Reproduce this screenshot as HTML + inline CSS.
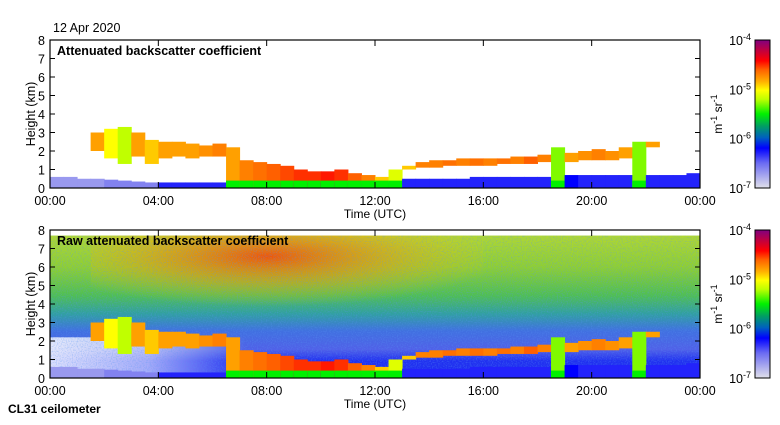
<!DOCTYPE html>
<html><head><meta charset="utf-8"><style>
body{margin:0;background:#fff;width:780px;height:420px;overflow:hidden;font-family:"Liberation Sans",sans-serif}
svg text{font-family:"Liberation Sans",sans-serif}
</style></head><body>
<svg id="c" width="780" height="420" xmlns="http://www.w3.org/2000/svg">
<defs>
<linearGradient id="cbar" x1="0" y1="1" x2="0" y2="0">
<stop offset="0" stop-color="#e0e0ea"/><stop offset="0.17" stop-color="#6a6af2"/><stop offset="0.27" stop-color="#0000ff"/><stop offset="0.34" stop-color="#0060c0"/><stop offset="0.42" stop-color="#00a060"/><stop offset="0.5" stop-color="#00f000"/><stop offset="0.6" stop-color="#c0ff00"/><stop offset="0.66" stop-color="#ffff00"/><stop offset="0.72" stop-color="#ffb000"/><stop offset="0.8" stop-color="#ff6000"/><stop offset="0.86" stop-color="#ff0000"/><stop offset="0.93" stop-color="#c00040"/><stop offset="1" stop-color="#800080"/>
</linearGradient>
<linearGradient id="bg2" x1="0" y1="1" x2="0" y2="0">
<stop offset="0" stop-color="#2030f0"/><stop offset="0.12" stop-color="#2030f0"/><stop offset="0.2" stop-color="#5060e8"/><stop offset="0.33" stop-color="#4070e0"/><stop offset="0.45" stop-color="#30a0a0"/><stop offset="0.58" stop-color="#50c050"/><stop offset="0.78" stop-color="#90d030"/><stop offset="1" stop-color="#b0d830"/>
</linearGradient>
<radialGradient id="warm" cx="0.45" cy="0.25" r="0.6">
<stop offset="0" stop-color="#ff4000" stop-opacity="0.85"/><stop offset="0.5" stop-color="#ff9000" stop-opacity="0.5"/><stop offset="1" stop-color="#ffd000" stop-opacity="0"/>
</radialGradient>
<linearGradient id="lowwhite" x1="0" y1="0" x2="1" y2="0">
<stop offset="0" stop-color="#ffffff" stop-opacity="0.85"/><stop offset="0.15" stop-color="#ffffff" stop-opacity="0.6"/><stop offset="0.3" stop-color="#ffffff" stop-opacity="0"/>
</linearGradient>
<filter id="noise" x="0" y="0" width="100%" height="100%">
<feTurbulence type="fractalNoise" baseFrequency="0.8" numOctaves="1" seed="3"/>
<feColorMatrix values="0 0 0 0 0.1  0 0 0 0 0.3  0 0 0 0 0.9  3 0 0 0 -1.3"/>
</filter>
</defs>
</svg>
<script>
// data (hours, km, log10 backscatter)
const binStart=[0,0.5,1,1.5,2,2.5,3,3.5,4,4.5,5,5.5,6,6.5,7,7.5,8,8.5,9,9.5,10,10.5,11,11.5,12,12.5,13,13.5,14,14.5,15,15.5,16,16.5,17,17.5,18,18.5,19,19.5,20,20.5,21,21.5,22,22.5,23,23.5];
const cloudBase=[null,null,null,2.0,1.6,1.3,1.7,1.3,1.6,1.7,1.6,1.7,1.7,0.3,0,0,0,0,0,0,0,0,0,0,0,0.3,1.0,1.1,1.1,1.2,1.2,1.2,1.2,1.3,1.3,1.3,1.4,0,1.4,1.5,1.5,1.5,1.6,0,2.2,null,null,null];
const cloudTop=[null,null,null,3.0,3.2,3.3,3.0,2.6,2.5,2.5,2.4,2.3,2.4,2.2,1.5,1.4,1.3,1.2,1.0,0.9,0.9,1.0,0.8,0.7,0.6,1.0,1.2,1.4,1.5,1.5,1.6,1.6,1.6,1.6,1.7,1.7,1.8,2.2,1.9,2.0,2.1,2.0,2.2,2.5,2.5,null,null,null];
const cloudVal=[-7,-7,-7,-4.8,-5.0,-5.2,-4.8,-4.9,-4.8,-4.8,-4.8,-4.75,-4.7,-4.8,-4.7,-4.65,-4.6,-4.55,-4.5,-4.5,-4.45,-4.5,-4.6,-4.7,-4.9,-5.1,-4.9,-4.7,-4.7,-4.65,-4.7,-4.65,-4.7,-4.65,-4.7,-4.6,-4.7,-5.3,-4.8,-4.75,-4.7,-4.75,-4.8,-5.3,-4.8,-7,-7,-7];
const lowTop=[0.6,0.6,0.5,0.5,0.45,0.4,0.35,0.3,0.3,0.3,0.3,0.3,0.3,0.3,0.3,0.3,0.3,0.3,0.3,0.3,0.3,0.3,0.3,0.3,0.4,0.4,0.5,0.5,0.5,0.5,0.5,0.6,0.6,0.6,0.6,0.6,0.6,0.6,0.7,0.7,0.7,0.7,0.7,0.7,0.7,0.7,0.7,0.8];
const lowVal=[-6.7,-6.7,-6.7,-6.7,-6.6,-6.6,-6.6,-6.6,-6.3,-6.3,-6.3,-6.3,-6.3,-6.3,-6.2,-6.2,-6.2,-6.2,-6.2,-6.2,-6.2,-6.2,-6.2,-6.2,-6.3,-6.3,-6.3,-6.3,-6.3,-6.3,-6.3,-6.3,-6.3,-6.3,-6.3,-6.3,-6.3,-6.2,-6.2,-6.3,-6.3,-6.3,-6.3,-6.3,-6.3,-6.3,-6.3,-6.3];
const xTicks=["00:00","04:00","08:00","12:00","16:00","20:00","00:00"];
const yTicks=[0,1,2,3,4,5,6,7,8];
const cbTicks=[-4,-5,-6,-7];

const NS="http://www.w3.org/2000/svg",svg=document.getElementById('c');
const X0=50,X1=700;
const xs=h=>X0+(X1-X0)*h/24;
function mk(t,a,p){const e=document.createElementNS(NS,t);for(const k in a)e.setAttribute(k,a[k]);(p||svg).appendChild(e);return e;}
const stops=[[-7,[224,224,234]],[-6.5,[106,106,242]],[-6.2,[0,0,255]],[-6,[0,96,192]],[-5.75,[0,160,96]],[-5.5,[0,240,0]],[-5.2,[192,255,0]],[-5,[255,255,0]],[-4.85,[255,176,0]],[-4.6,[255,96,0]],[-4.4,[255,0,0]],[-4.2,[192,0,64]],[-4,[128,0,128]]];
function cmap(v){for(let i=1;i<stops.length;i++){if(v<=stops[i][0]){const a=stops[i-1],b=stops[i],f=(v-a[0])/(b[0]-a[0]);const c=a[1].map((x,j)=>Math.round(x+(b[1][j]-x)*f));return `rgb(${c})`;}}return 'rgb(128,0,128)';}

function panel(Y0,Y1,title,raw,pname){
  const ys=k=>Y1-(Y1-Y0)*k/8;
  const g=mk('g',{});
  if(raw){
    const bg=mk('rect',{x:X0,y:ys(7.7),width:X1-X0,height:Y1-ys(7.7),fill:'url(#bg2)'},g);
    
    mk('rect',{x:xs(1.5),y:ys(7.7),width:xs(16)-xs(1.5),height:ys(3.2)-ys(7.7),fill:'url(#warm)'},g);
    mk('rect',{x:X0,y:ys(2.2),width:X1-X0,height:Y1-ys(2.2),fill:'url(#lowwhite)'},g);
    mk('rect',{x:X0,y:ys(7.7),width:X1-X0,height:Y1-ys(7.7),filter:'url(#noise)',opacity:0.35},g);
  }
  const w=xs(0.5)-xs(0);
  binStart.forEach((t,i)=>{
    const r=mk('rect',{x:xs(t),y:ys(lowTop[i]),width:w+0.5,height:Y1-ys(lowTop[i]),fill:cmap(lowVal[i])},g);
    
    if(cloudBase[i]!==null){
      const c=mk('rect',{x:xs(t),y:ys(cloudTop[i]),width:w+0.5,height:ys(cloudBase[i])-ys(cloudTop[i]),fill:cmap(cloudVal[i])},g);
      
      if(cloudBase[i]<0.5){const b=mk('rect',{x:xs(t),y:ys(0.4),width:w+0.5,height:Y1-ys(0.4),fill:cmap(-5.5)},g);}
    }
  });
  const fr=mk('rect',{x:X0,y:Y0,width:X1-X0,height:Y1-Y0,fill:'none',stroke:'#000','stroke-width':1.2},g);
  
  xTicks.forEach((l,i)=>{const x=xs(i*4);
    mk('line',{x1:x,x2:x,y1:Y1,y2:Y1-6,stroke:'#000'},g);mk('line',{x1:x,x2:x,y1:Y0,y2:Y0+6,stroke:'#000'},g);
    const t=mk('text',{x:x,y:Y1+17,'font-size':12.5,'text-anchor':'middle'},g);t.textContent=l;
    });
  yTicks.forEach(k=>{const y=ys(k);
    mk('line',{x1:X0,x2:X0+5,y1:y,y2:y,stroke:'#000'},g);mk('line',{x1:X1,x2:X1-5,y1:y,y2:y,stroke:'#000'},g);
    const t=mk('text',{x:X0-5,y:y+5,'font-size':12.5,'text-anchor':'end'},g);t.textContent=k;
    });
  const yt=mk('text',{x:0,y:0,'font-size':12.5,'text-anchor':'middle',transform:`translate(35,${(Y0+Y1)/2}) rotate(-90)`},g);yt.textContent='Height (km)';
  
  const xt=mk('text',{x:375,y:Y1+30,'font-size':12,'text-anchor':'middle'},g);xt.textContent='Time (UTC)';
  
  const tt=mk('text',{x:57,y:Y0+15,'font-size':12.5,'font-weight':'bold'},g);tt.textContent=title;
  
  const cb=mk('rect',{x:755,y:Y0,width:15,height:Y1-Y0,fill:'url(#cbar)',stroke:'#000'},g);
  
  cbTicks.forEach(e=>{const y=Y0+(Y1-Y0)*(-4-e)/3;
    const t=mk('text',{x:751,y:y+5,'font-size':12.5,'text-anchor':'end'},g);
    t.innerHTML=`10<tspan dy="-5" font-size="9">${e}</tspan>`;
    });
  const u=mk('text',{x:0,y:0,'font-size':12,'text-anchor':'middle',transform:`translate(722,${(Y0+Y1)/2}) rotate(-90)`},g);
  u.innerHTML='m<tspan dy="-5" font-size="9">-1</tspan><tspan dy="5"> sr</tspan><tspan dy="-5" font-size="9">-1</tspan>';
  
}
panel(40,188,'Attenuated backscatter coefficient',false,'top-panel');
panel(230,378,'Raw attenuated backscatter coefficient',true,'bottom-panel');
const d=mk('text',{x:53,y:32,'font-size':12.5});d.textContent='12 Apr 2020';

const n=mk('text',{x:8,y:413,'font-size':12,'font-weight':'bold'});n.textContent='CL31 ceilometer';

</script>
</body></html>
